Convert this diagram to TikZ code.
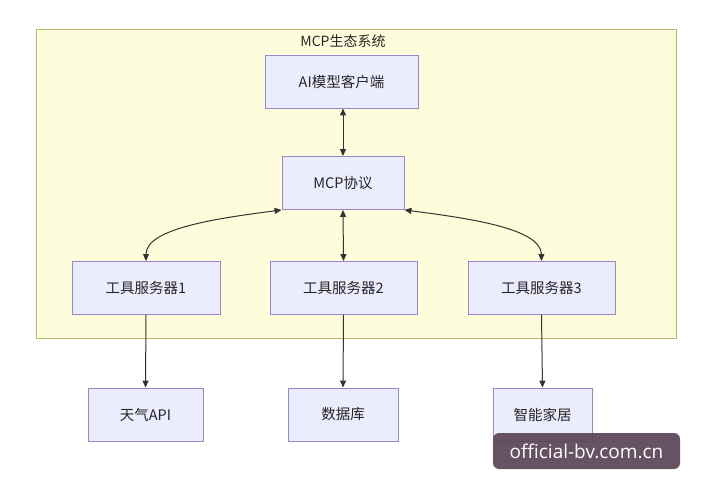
\documentclass[tikz,border=0pt]{standalone}
\usepackage{fontspec}
\setmainfont{Noto Sans CJK SC}
\newfontfamily\wmfont{Open Sans}
\usetikzlibrary{arrows.meta}
\definecolor{boxfill}{HTML}{ECECFF}
\definecolor{boxline}{HTML}{9A86CF}
\definecolor{clfill}{HTML}{FDFDDC}
\definecolor{clline}{HTML}{B8B86A}
\definecolor{arr}{HTML}{333333}
\definecolor{wmbg}{HTML}{5A4456}
\tikzset{
  nbox/.style={draw=boxline, fill=boxfill, line width=0.9pt, minimum height=53pt, inner sep=0pt, font=\fontsize{14.5}{16}\selectfont, text=black!85},
  link/.style={draw=arr, line width=1pt, -{Triangle[length=7pt,width=6pt]}},
  blink/.style={draw=arr, line width=1pt, {Triangle[length=7pt,width=6pt]}-{Triangle[length=7pt,width=6pt]}},
}
\begin{document}
\begin{tikzpicture}[x=1pt,y=-1pt]
\useasboundingbox[fill=white] (0,0) rectangle (710,500);
\node[draw=clline, fill=clfill, line width=0.8pt, minimum width=640pt, minimum height=309pt, inner sep=0pt] (cl) at (356,183.5) {};
\node[font=\fontsize{14}{16}\selectfont, text=black!85] (title) at (343,41) {MCP生态系统};
\node[nbox, minimum width=153pt] (ai) at (341.5,81.5) {AI模型客户端};
\node[nbox, minimum width=122pt] (mcp) at (343,183) {MCP协议};
\node[nbox, minimum width=148pt] (t1) at (146,288) {工具服务器1};
\node[nbox, minimum width=147pt] (t2) at (343.5,288) {工具服务器2};
\node[nbox, minimum width=147pt] (t3) at (541.5,288) {工具服务器3};
\node[nbox, minimum width=115pt] (w) at (145.5,414.5) {天气API};
\node[nbox, minimum width=110pt] (db) at (343,414.5) {数据库};
\node[nbox, minimum width=99pt] (sh) at (542.5,414.5) {智能家居};
\draw[blink] (ai.south -| mcp.north) -- (mcp.north);
\draw[blink] (mcp.south) -- (t2.north);
\draw[blink] (t1.north) .. controls (146,228) and (220,218) .. (mcp.south west);
\draw[blink] (t3.north) .. controls (541,228) and (466,218) .. (mcp.south east);
\draw[link] (t1.south) -- (w.north);
\draw[link] (t2.south) -- (db.north);
\draw[link] (t3.south) -- (sh.north);
\node[fill=wmbg, fill opacity=0.92, text opacity=1, rounded corners=6pt, minimum width=187pt, minimum height=36pt, inner sep=0pt, text=white, font=\wmfont\fontsize{19}{21}\selectfont] (wm) at (586.5,451) {official-bv.com.cn};
\end{tikzpicture}
\end{document}
